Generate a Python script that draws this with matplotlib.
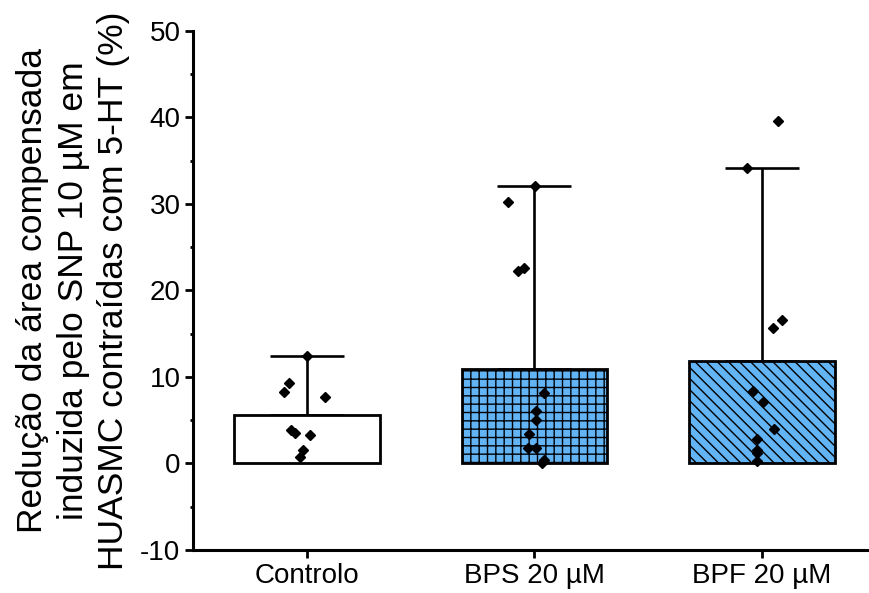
import numpy as np
import matplotlib.pyplot as plt

plt.rcParams['font.family'] = ['Liberation Sans', 'DejaVu Sans']
plt.rcParams['hatch.linewidth'] = 1.0
plt.rcParams['axes.unicode_minus'] = False

# data
groups = ['Controlo', 'BPS 20 µM', 'BPF 20 µM']
bar_means = [5.65, 10.9, 11.9]
bar_tops = [12.46, 32.1, 34.2]

ctrl_vals = [12.46, 9.34, 8.3, 7.72, 3.87, 3.5, 3.3, 1.56, 0.79]
ctrl_dx = [0.003, -0.078, -0.10, 0.082, -0.07, -0.053, 0.013, -0.016, -0.028]

bps_vals = [32.1, 30.2, 22.3, 22.6, 8.2, 6.1, 5.0, 3.4, 1.8, 1.8, 0.4, 0.0]
bps_dx = [0.002, -0.118, -0.073, -0.046, 0.043, 0.007, 0.009, -0.023, -0.029, 0.009, 0.043, 0.032]

bpf_vals = [39.6, 34.2, 16.55, 15.7, 8.4, 7.1, 3.95, 2.85, 1.5, 1.2, 0.3]
bpf_dx = [0.071, -0.068, 0.087, 0.048, -0.039, 0.005, 0.054, -0.022, -0.021, -0.021, -0.022]

fig = plt.figure(figsize=(8.69, 5.93), dpi=100)
ax = fig.add_axes([0.222, 0.0725, 0.778, 0.8755])

x = np.arange(1, len(groups) + 1)
colors = ['white', '#62B4F5', '#62B4F5']
hatches = [None, '++', '\\\\\\']

# whiskers (upward only) drawn behind the bars
ax.errorbar(x, bar_means, yerr=[np.zeros(3), np.array(bar_tops) - np.array(bar_means)],
            fmt='none', ecolor='black', elinewidth=1.9, capsize=26.5, capthick=1.9, zorder=1)

for xi, m, c, h in zip(x, bar_means, colors, hatches):
    ax.bar(xi, m, width=0.64, color=c, edgecolor='black', linewidth=2.0, hatch=h, zorder=2)

for xi, vals, dx in zip(x, [ctrl_vals, bps_vals, bpf_vals], [ctrl_dx, bps_dx, bpf_dx]):
    ax.plot(xi + np.array(dx), vals, 'D', color='black', ms=5.5, zorder=3, linestyle='none')

ax.set_xlim(0.5, 3.47)
ax.set_ylim(-10, 50)
ax.set_yticks(np.arange(-10, 51, 10))
ax.set_yticks(np.arange(-5, 50, 10), minor=True)
ax.set_xticks(x)
ax.set_xticklabels(groups)

for s in ['top', 'right']:
    ax.spines[s].set_visible(False)
for s in ['left', 'bottom']:
    ax.spines[s].set_linewidth(2.2)

ax.tick_params(axis='both', which='major', direction='out', length=5.5, width=2.0, labelsize=20)
ax.tick_params(axis='y', which='minor', direction='out', length=2.5, width=2.0)

ax.set_ylabel('Redução da área compensada\ninduzida pelo SNP 10 µM em\nHUASMC contraídas com 5-HT (%)',
              fontsize=25.5, linespacing=1.3, labelpad=7)

fig.savefig('out.png', dpi=100)
